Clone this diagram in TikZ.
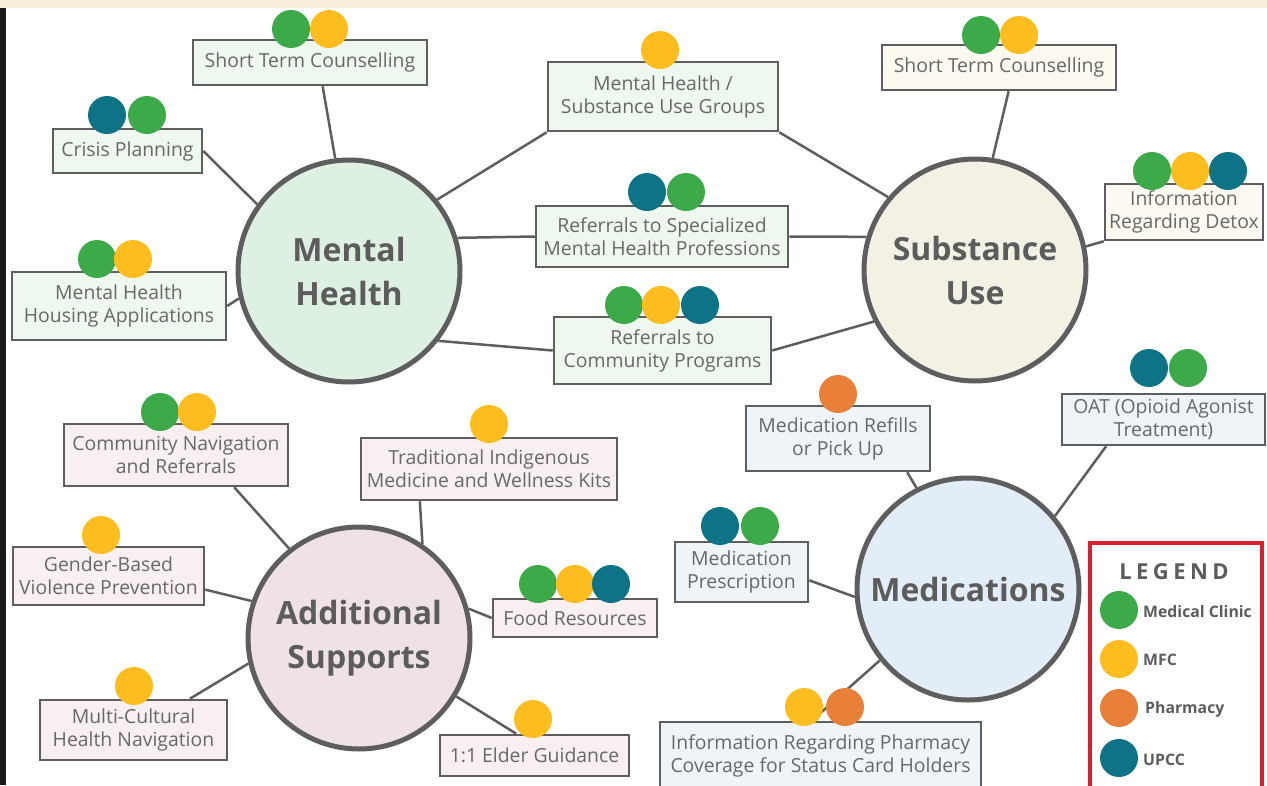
\documentclass[tikz,border=0pt]{standalone}
\usepackage{fontspec}
\setmainfont{Open Sans}
\usepackage{tikz}
\usetikzlibrary{calc}

\definecolor{bandBeige}{HTML}{F7EDD9}
\definecolor{lineGray}{HTML}{5E5E5E}
\definecolor{txtGray}{HTML}{686868}
\definecolor{hubText}{HTML}{5C5C5C}
\definecolor{mhFill}{HTML}{DDF0E2}
\definecolor{mhBox}{HTML}{EEF8EF}
\definecolor{suFill}{HTML}{F3F0E4}
\definecolor{suBox}{HTML}{FBF9F0}
\definecolor{asFill}{HTML}{EEE2E4}
\definecolor{asBox}{HTML}{F8EFF0}
\definecolor{medFill}{HTML}{E3EDF7}
\definecolor{medBox}{HTML}{EFF4F9}
\definecolor{cGreen}{HTML}{3DAA4A}
\definecolor{cYellow}{HTML}{FDBD1F}
\definecolor{cOrange}{HTML}{E8803A}
\definecolor{cTeal}{HTML}{0E7387}
\definecolor{legRed}{HTML}{D7202E}

\tikzset{
	hub/.style={circle,draw=lineGray,line width=5pt,minimum size=222pt,inner sep=0pt,
		align=center,text=hubText,font=\bfseries\fontsize{32}{44}\selectfont},
	svcbox/.style={draw=lineGray,line width=2.5pt,inner sep=0pt,align=center,
		text=txtGray,font=\fontsize{19.4}{23}\selectfont},
	link/.style={draw=lineGray,line width=2.5pt},
	legtext/.style={anchor=west,inner sep=0pt,text=hubText,font=\bfseries\fontsize{15.8}{18}\selectfont}
}

% a coloured provider dot
\newcommand{\svcdot}[2]{\fill[#1] (#2) circle[radius=19];}

\begin{document}
\begin{tikzpicture}[x=1pt,y=-1pt]
	
	% Page frame
	\useasboundingbox (0,0) rectangle (1267,785);
	\clip (0,0) rectangle (1267,785);
	\fill[white] (0,0) rectangle (1267,785);
	\fill[bandBeige] (0,0) rectangle (1267,8);
	\fill[black!90] (0,8) rectangle (6,785);
	
	% Hubs
	\node[hub,fill=mhFill] (mh) at (349,271) {Mental\\Health};
	\node[hub,fill=suFill] (su) at (975,270) {Substance\\Use};
	\node[hub,fill=asFill] (adds) at (359,638) {Additional\\Supports};
	\node[hub,fill=medFill] (meds) at (968,589) {Medications};
	
	% Mental health services
	\node[svcbox,fill=mhBox,minimum width=234,minimum height=45] (stcA) at (310,62.5) {Short Term Counselling};
	\node[svcbox,fill=mhBox,minimum width=149,minimum height=44] (crisis) at (127.5,151) {Crisis Planning};
	\node[svcbox,fill=mhBox,minimum width=230,minimum height=69] (groups) at (663,96.5) {Mental Health /\\Substance Use Groups};
	\node[svcbox,fill=mhBox,minimum width=252,minimum height=61] (refspec) at (662,236.5) {Referrals to Specialized\\Mental Health Professions};
	\node[svcbox,fill=mhBox,minimum width=214,minimum height=68] (housing) at (119,306) {Mental Health\\Housing Applications};
	\node[svcbox,fill=mhBox,minimum width=217,minimum height=67] (refcomm) at (662.5,350.5) {Referrals to\\Community Programs};
	
	% Substance use services
	\node[svcbox,fill=suBox,minimum width=234,minimum height=45] (stcB) at (999,67.5) {Short Term Counselling};
	\node[svcbox,fill=suBox,minimum width=158,minimum height=56] (detox) at (1184,212) {Information\\Regarding Detox};
	
	% Additional supports
	\node[svcbox,fill=asBox,minimum width=224,minimum height=62] (commnav) at (176,455) {Community Navigation\\and Referrals};
	\node[svcbox,fill=asBox,minimum width=256,minimum height=62] (trad) at (489,469) {Traditional Indigenous\\Medicine and Wellness Kits};
	\node[svcbox,fill=asBox,minimum width=191,minimum height=58] (gbv) at (108.5,576) {Gender-Based\\Violence Prevention};
	\node[svcbox,fill=asBox,minimum width=164,minimum height=38] (food) at (575,618) {Food Resources};
	\node[svcbox,fill=asBox,minimum width=187,minimum height=60] (multi) at (133.5,730) {Multi-Cultural\\Health Navigation};
	\node[svcbox,fill=asBox,minimum width=189,minimum height=41] (elder) at (534.5,755.5) {1:1 Elder Guidance};
	
	% Medication services
	\node[svcbox,fill=medBox,minimum width=184,minimum height=65] (refill) at (838,438.5) {Medication Refills\\or Pick Up};
	\node[svcbox,fill=medBox,minimum width=203,minimum height=51] (oat) at (1163.5,419.5) {OAT (Opioid Agonist\\Treatment)};
	\node[svcbox,fill=medBox,minimum width=133,minimum height=60] (presc) at (741.5,572) {Medication\\Prescription};
	\node[svcbox,fill=medBox,minimum width=321,minimum height=68] (pharm) at (820.5,756) {Information Regarding Pharmacy\\Coverage for Status Card Holders};
	
	% Connectors
	\draw[link] (stcA.-62) -- (mh.97);
	\draw[link] (crisis.east) -- (mh.144);
	\draw[link] (housing.east) -- (mh.194);
	\draw[link] (groups.south west) -- (mh.39);
	\draw[link] (refspec.west) -- (mh.17);
	\draw[link] (refcomm.west) -- (mh.-38);
	\draw[link] (groups.south east) -- (su.140);
	\draw[link] (refspec.east) -- (su.163);
	\draw[link] (refcomm.east) -- (su.207);
	\draw[link] (stcB.-68) -- (su.81);
	\draw[link] (detox.south west) -- (su.12);
	\draw[link] (commnav.-29) -- (adds.128);
	\draw[link] (trad.205) -- (adds.56);
	\draw[link] (gbv.-8) -- (adds.161);
	\draw[link] (food.west) -- (adds.15);
	\draw[link] (multi.29) -- (adds.193);
	\draw[link] (elder.130) -- (adds.-31);
	\draw[link] (refill.-26) -- (meds.117);
	\draw[link] (oat.205) -- (meds.40);
	\draw[link] (presc.-7) -- (meds.184);
	\draw[link] (pharm.104) -- (meds.219);
	
	% Provider dots
	\svcdot{cGreen}{291,29} \svcdot{cYellow}{329,29}
	\svcdot{cTeal}{107,115} \svcdot{cGreen}{147,115}
	\svcdot{cYellow}{660,50}
	\svcdot{cTeal}{647,192} \svcdot{cGreen}{686,192}
	\svcdot{cGreen}{97,259} \svcdot{cYellow}{133,259}
	\svcdot{cGreen}{624,305} \svcdot{cYellow}{661,305} \svcdot{cTeal}{700,305}
	\svcdot{cGreen}{981,35} \svcdot{cYellow}{1019,35}
	\svcdot{cGreen}{1152,171} \svcdot{cYellow}{1190,171} \svcdot{cTeal}{1228,171}
	\svcdot{cGreen}{160,412} \svcdot{cYellow}{197,412}
	\svcdot{cYellow}{489,424}
	\svcdot{cYellow}{101,535}
	\svcdot{cGreen}{538,584} \svcdot{cYellow}{575,584} \svcdot{cTeal}{611,584}
	\svcdot{cYellow}{134,686}
	\svcdot{cYellow}{533,719}
	\svcdot{cOrange}{838,394}
	\svcdot{cTeal}{1149,368} \svcdot{cGreen}{1188,368}
	\svcdot{cTeal}{720,526} \svcdot{cGreen}{760,526}
	\svcdot{cYellow}{804,707} \svcdot{cOrange}{845,707}
	
	% Legend
	\draw[legRed,line width=4pt,fill=white] (1090,543) rectangle (1262,792);
	\node[text=hubText,font=\bfseries\fontsize{22}{24}\selectfont\addfontfeatures{LetterSpace=20}] (legtitle) at (1174,572) {LEGEND};
	\svcdot{cGreen}{1119,610}
	\svcdot{cYellow}{1119,659}
	\svcdot{cOrange}{1119,708}
	\svcdot{cTeal}{1119,758}
	\node[legtext] (legclinic) at (1143,612) {Medical Clinic};
	\node[legtext] (legmfc) at (1143,660) {MFC};
	\node[legtext] (legpharm) at (1145,709) {Pharmacy};
	\node[legtext] (legupcc) at (1143,760) {UPCC};
\end{tikzpicture}
\end{document}
